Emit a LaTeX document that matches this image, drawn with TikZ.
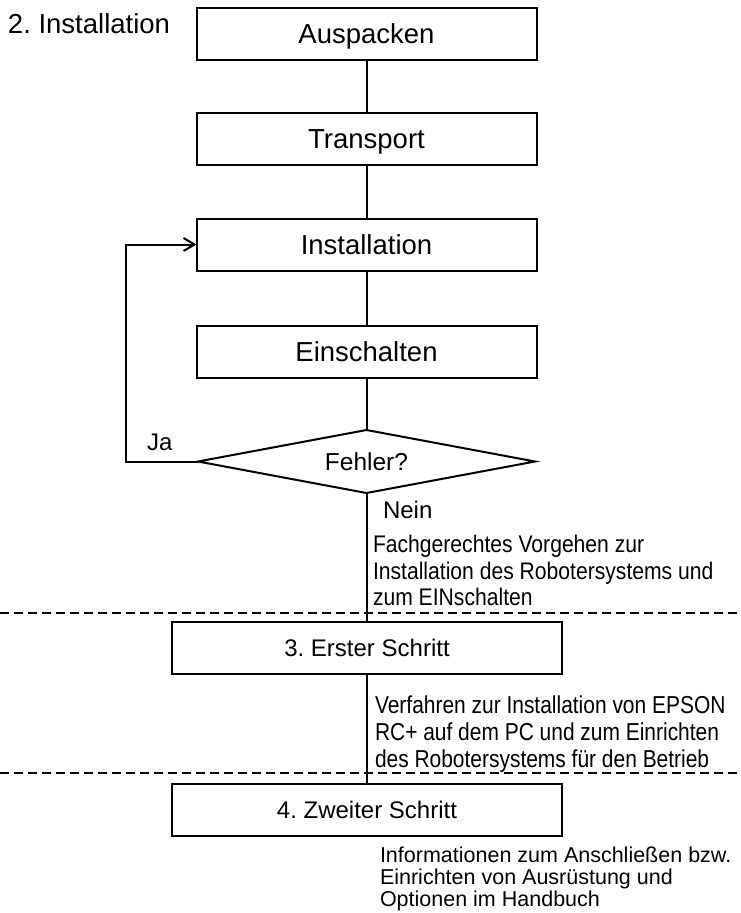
\documentclass[tikz,border=0pt]{standalone}
\usepackage{fontspec}
\setmainfont{Liberation Sans}
\newfontfamily\narrowfont{Liberation Sans}[FakeStretch=0.88]
\newfontfamily\narrowerfont{Liberation Sans}[FakeStretch=0.855]
\usetikzlibrary{shapes.geometric,arrows.meta}
\frenchspacing

\begin{document}
\begin{tikzpicture}[x=1pt,y=-1pt,
  every node/.style={inner sep=0pt, outer sep=0pt},
  line/.style={line width=2pt, draw=black},
  stepbox/.style={draw=black, line width=2pt, rectangle, minimum width=340pt,
    minimum height=52pt, text height=19.7pt, text depth=0pt,
    font=\fontsize{27.5}{33}\selectfont},
  chapterbox/.style={stepbox, minimum width=390pt, text height=17.2pt,
    font=\fontsize{24}{29}\selectfont},
  decision/.style={draw=black, line width=2pt, diamond, aspect=5.35,
    minimum width=337pt, minimum height=63pt, text height=17.5pt, text depth=0pt,
    font=\fontsize{24.5}{29}\selectfont},
  label/.style={anchor=base west, font=\fontsize{24}{29}\selectfont},
  note/.style={anchor=north west, align=left},
  divider/.style={dashed, dash pattern=on 9pt off 5pt, line width=1.8pt}
]
  % canvas
  \useasboundingbox (0,0) rectangle (740,913);

  % heading
  \node[anchor=base west, font=\fontsize{27.5}{33}\selectfont] (title) at (8,33) {2. Installation};

  % installation steps
  \node[stepbox] (unpack)    at (366.5,34)    {Auspacken};
  \node[stepbox] (transport) at (366.5,139)   {Transport};
  \node[stepbox] (install)   at (366.5,244.5) {Installation};
  \node[stepbox] (power)     at (366.5,351.5) {Einschalten};
  \node[decision] (error)    at (366.5,461.5) {Fehler?};

  \node[chapterbox] (first)  at (367,648)   {3. Erster Schritt};
  \node[chapterbox] (second) at (367,809.5) {4. Zweiter Schritt};

  % flow
  \draw[line] (unpack.south) -- (transport.north);
  \draw[line] (transport.south) -- (install.north);
  \draw[line] (install.south) -- (power.north);
  \draw[line] (power.south) -- (error.north);
  \draw[line] (error.south) -- (error.south |- first.north);
  \draw[line] (first.south) -- (first.south |- second.north);

  % retry loop
  \coordinate (loop) at (126,461.5);
  \draw[line, -{Straight Barb[length=11pt,width=13pt,line width=2pt]}]
    (error.west) -- (loop) |- (install.west);

  \node[label] (yes) at (147,450) {Ja};
  \node[label] (no)  at (383,518) {Nein};

  % section dividers
  \coordinate (d1l) at (0,613);   \coordinate (d1r) at (740,613);
  \coordinate (d2l) at (0,773);   \coordinate (d2r) at (740,773);
  \draw[divider] (d1l) -- (d1r);
  \draw[divider] (d2l) -- (d2r);

  % notes
  \node[note, font=\narrowfont\fontsize{24}{26.5}\selectfont] (note1) at (373,535.5)
    {Fachgerechtes Vorgehen zur\\Installation des Robotersystems und\\zum EINschalten};
  \node[note, font=\narrowerfont\fontsize{24.5}{27}\selectfont] (note2) at (375,695.5)
    {Verfahren zur Installation von EPSON\\RC+ auf dem PC und zum Einrichten\\des Robotersystems für den Betrieb};
  \node[note, font=\fontsize{21.5}{22}\selectfont] (note3) at (380,847)
    {Informationen zum Anschließen bzw.\\Einrichten von Ausrüstung und\\Optionen im Handbuch};
\end{tikzpicture}
\end{document}
